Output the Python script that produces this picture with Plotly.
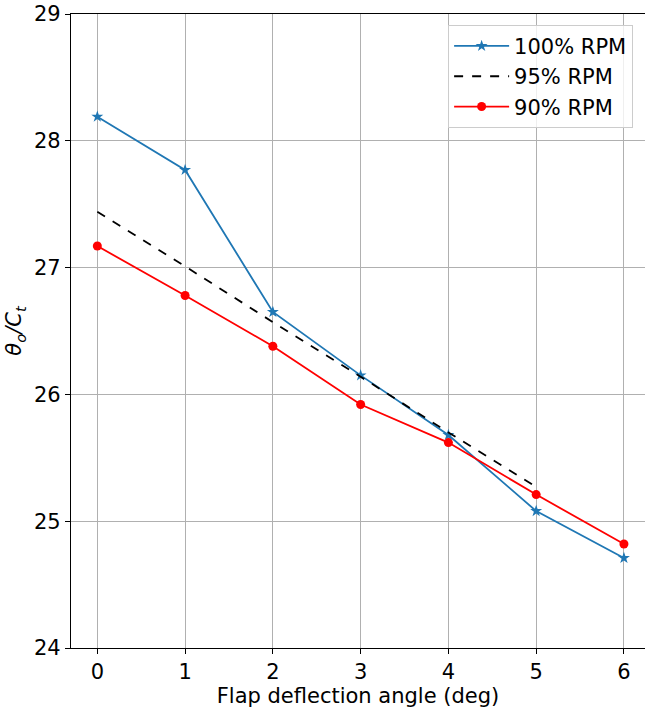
import plotly.graph_objects as go

angles = [0, 1, 2, 3, 4, 5, 6]
rpm100 = [28.19, 27.77, 26.65, 26.15, 25.68, 25.08, 24.71]
angles95 = [0, 1, 2, 3, 4, 5]
rpm95 = [27.44, 27.01, 26.57, 26.14, 25.70, 25.27]
rpm90 = [27.17, 26.78, 26.38, 25.92, 25.62, 25.21, 24.82]

FONT = "DejaVu Sans"
FS = 21

fig = go.Figure()
fig.add_trace(go.Scatter(x=angles, y=rpm100, mode="lines+markers", name="100% RPM",
                         line=dict(color="#1f77b4", width=1.8),
                         marker=dict(symbol="star", size=9, color="#1f77b4")))
fig.add_trace(go.Scatter(x=angles95, y=rpm95, mode="lines", name="95% RPM",
                         line=dict(color="black", width=1.8, dash="dash")))
fig.add_trace(go.Scatter(x=angles, y=rpm90, mode="lines+markers", name="90% RPM",
                         line=dict(color="red", width=1.8),
                         marker=dict(symbol="circle", size=9, color="red")))

fig.update_layout(
    width=645, height=708,
    margin=dict(l=71, r=0, t=14, b=60),
    paper_bgcolor="white", plot_bgcolor="white",
    font=dict(family=FONT, size=FS, color="black"),
    legend=dict(x=0.657, y=0.983, xanchor="left", yanchor="top",
                bgcolor="rgba(255,255,255,0.8)", bordercolor="#cccccc", borderwidth=1,
                font=dict(size=FS), itemwidth=55, tracegroupgap=0),
    xaxis=dict(range=[-0.3, 6.24], tickvals=angles, ticks="outside", ticklen=5,
               tickcolor="black", showline=True, linecolor="black", linewidth=1.2,
               mirror=True, showgrid=True, gridcolor="#b0b0b0", gridwidth=1,
               zeroline=False, tickfont=dict(size=FS),
               title=dict(text="Flap deflection angle (deg)", font=dict(size=FS), standoff=2)),
    yaxis=dict(range=[24, 29], tickvals=[24, 25, 26, 27, 28, 29], ticks="outside", ticklen=5,
               tickcolor="black", showline=True, linecolor="black", linewidth=1.2,
               showgrid=True, gridcolor="#b0b0b0", gridwidth=1, zeroline=False,
               tickfont=dict(size=FS),
               title=dict(text="<i>θ<sub>o</sub>/C<sub>t</sub></i>", font=dict(size=FS), standoff=6)),
)

fig.write_html("out.html")
